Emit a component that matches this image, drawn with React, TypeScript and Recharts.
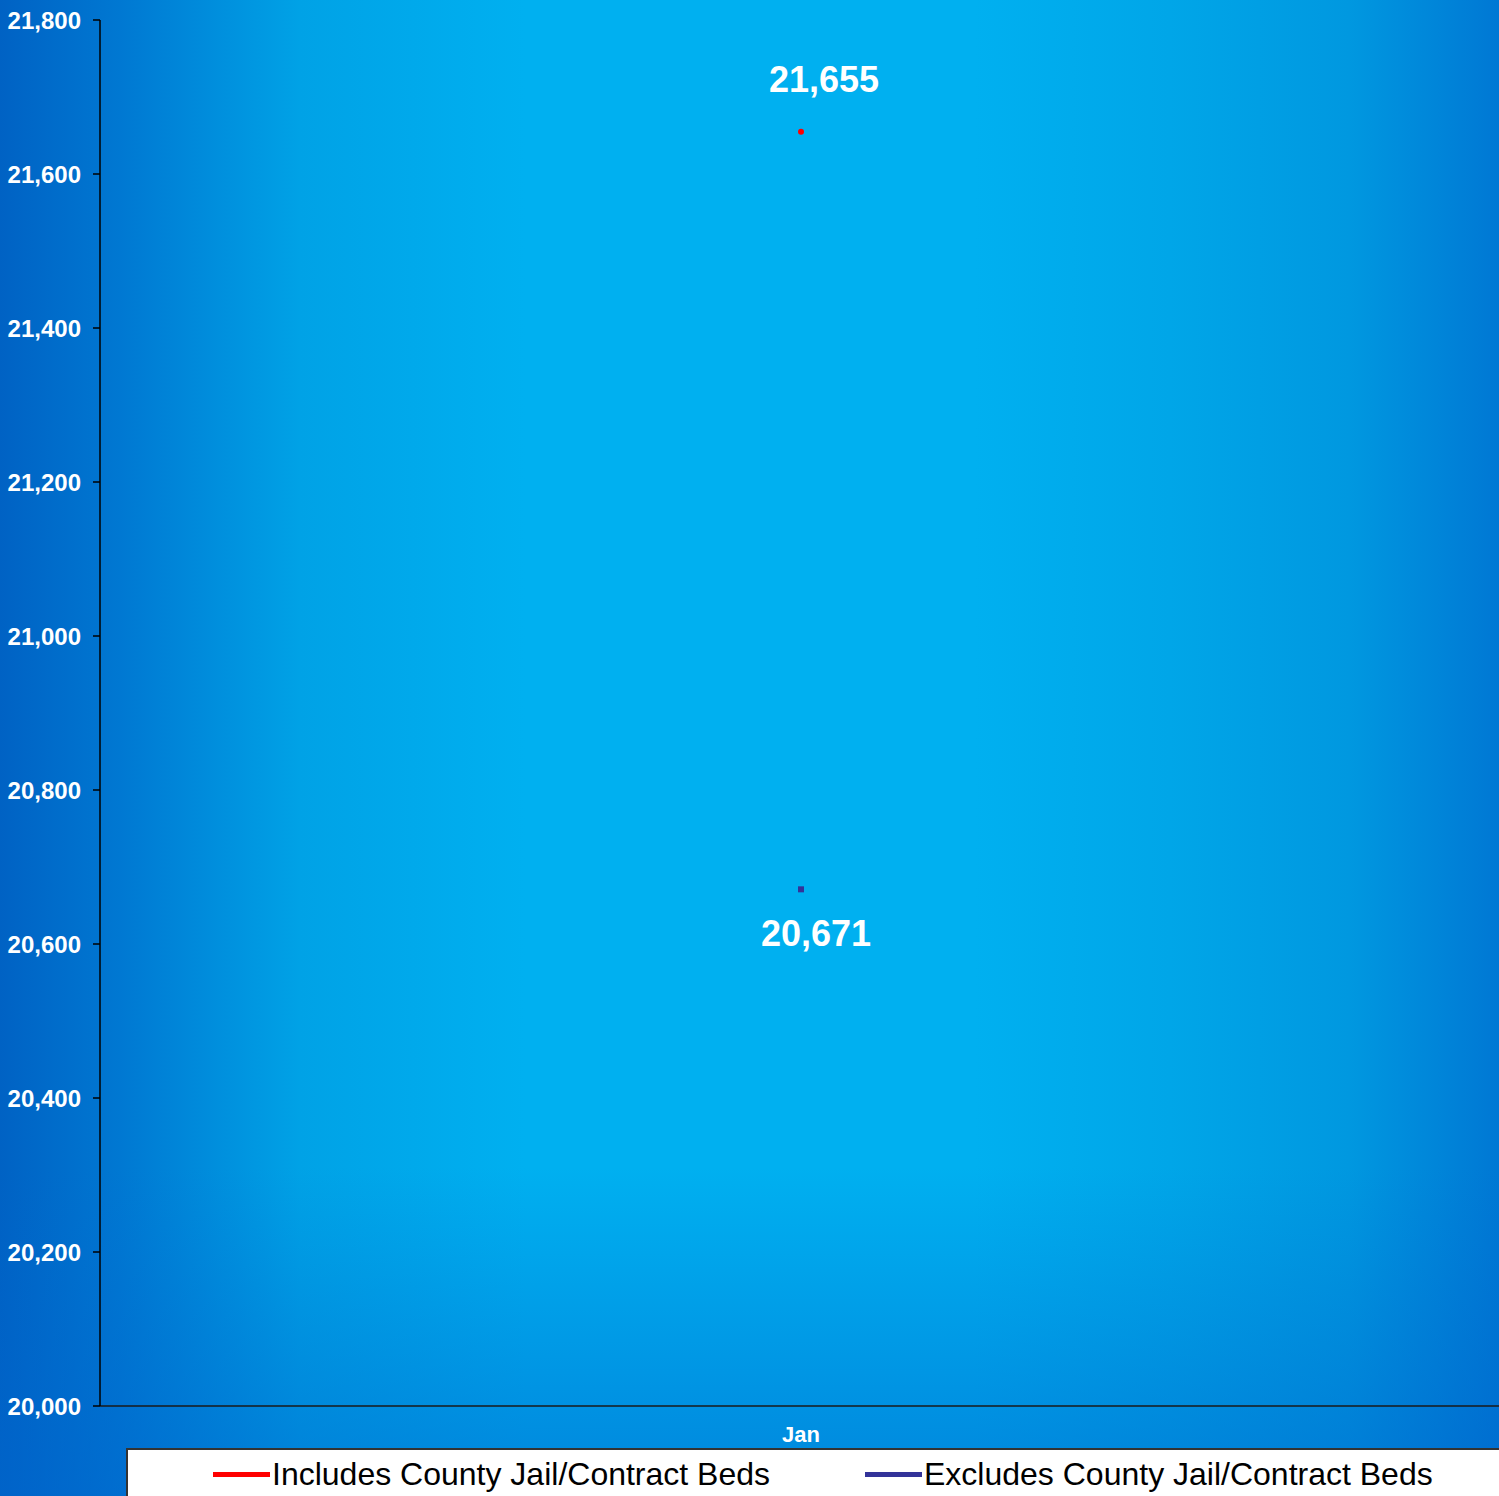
import React from "react";
import { LineChart, Line, XAxis, YAxis, LabelList } from "recharts";

const categories = ["Jan"];
const includesValues = [21655];
const excludesValues = [20671];
const yTicks = [20000, 20200, 20400, 20600, 20800, 21000, 21200, 21400, 21600, 21800];
const seriesNames = ["Includes County Jail/Contract Beds", "Excludes County Jail/Contract Beds"];
const seriesColors = ["#ff0000", "#333399"];

const data = categories.map((c, i) => ({
  month: c,
  includes: includesValues[i],
  excludes: excludesValues[i],
}));

const fmt = (v: number) => v.toLocaleString("en-US");
const FONT = "'Liberation Sans', Arial, sans-serif";

const RedDot = (props: any) => {
  const { cx, cy } = props;
  if (cx == null || cy == null) return null;
  return <circle cx={cx} cy={cy} r={3} fill={seriesColors[0]} />;
};
const BlueDot = (props: any) => {
  const { cx, cy } = props;
  if (cx == null || cy == null) return null;
  return <rect x={cx - 3} y={cy - 3} width={6} height={6} fill={seriesColors[1]} />;
};

const makeLabel = (dx: number, dy: number) => (props: any) => {
  const { x, y, value } = props;
  return (
    <text
      x={x + dx}
      y={y + dy}
      textAnchor="middle"
      fill="#ffffff"
      fontFamily={FONT}
      fontWeight="bold"
      fontSize={36}
    >
      {fmt(value)}
    </text>
  );
};

export default function App() {
  return (
    <div
      style={{
        position: "absolute",
        left: 0,
        top: 0,
        width: 1499,
        height: 1496,
        overflow: "hidden",
        background:
          "linear-gradient(to bottom, rgba(0,90,200,0) 0%, rgba(0,90,200,0) 78%, rgba(0,100,205,0.55) 100%), linear-gradient(to right, #0062c4 0%, #0078d2 8%, #00a2e6 20%, #00b0f0 35%, #00b0f0 65%, #00a6e8 78%, #0098e0 90%, #0078d4 100%)",
      }}
    >
      <style>{`body{margin:0;}`}</style>
      <LineChart
        width={1502}
        height={1496}
        data={data}
        margin={{ top: 20, right: 0, left: 0, bottom: 0 }}
      >
        <XAxis
          dataKey="month"
          height={90}
          axisLine={{ stroke: "#1a1a1a", strokeWidth: 1.5 }}
          tickLine={false}
          tickSize={0}
          tickMargin={20}
          tick={{ fill: "#ffffff", fontFamily: FONT, fontWeight: "bold", fontSize: 22 }}
        />
        <YAxis
          width={100}
          domain={[20000, 21800]}
          ticks={yTicks}
          allowDataOverflow
          interval={0}
          tickFormatter={fmt}
          axisLine={{ stroke: "#000000", strokeWidth: 1.5 }}
          tickLine={{ stroke: "#000000", strokeWidth: 1.5 }}
          tickSize={7}
          tickMargin={12}
          tick={{ fill: "#ffffff", fontFamily: FONT, fontWeight: "bold", fontSize: 24 }}
        />
        <Line
          type="linear"
          dataKey="includes"
          name={seriesNames[0]}
          stroke={seriesColors[0]}
          strokeWidth={3}
          dot={<RedDot />}
          activeDot={false}
          isAnimationActive={false}
        >
          <LabelList dataKey="includes" content={makeLabel(23, -40)} />
        </Line>
        <Line
          type="linear"
          dataKey="excludes"
          name={seriesNames[1]}
          stroke={seriesColors[1]}
          strokeWidth={3}
          dot={<BlueDot />}
          activeDot={false}
          isAnimationActive={false}
        >
          <LabelList dataKey="excludes" content={makeLabel(15, 57)} />
        </Line>
      </LineChart>
      <div
        style={{
          position: "absolute",
          left: 126,
          top: 1448,
          width: 1400,
          height: 100,
          background: "#ffffff",
          border: "2px solid #333333",
          boxSizing: "border-box",
          fontFamily: FONT,
          fontSize: 32,
          color: "#000000",
        }}
      >
        {seriesNames.map((name, i) => (
          <div
            key={name}
            style={{
              position: "absolute",
              left: i === 0 ? 85 : 737,
              top: 6,
              display: "flex",
              alignItems: "center",
              whiteSpace: "nowrap",
              lineHeight: "36px",
            }}
          >
            <span
              style={{
                display: "inline-block",
                width: 57,
                height: 5,
                background: seriesColors[i],
                marginRight: 2,
              }}
            />
            <span>{name}</span>
          </div>
        ))}
      </div>
    </div>
  );
}
